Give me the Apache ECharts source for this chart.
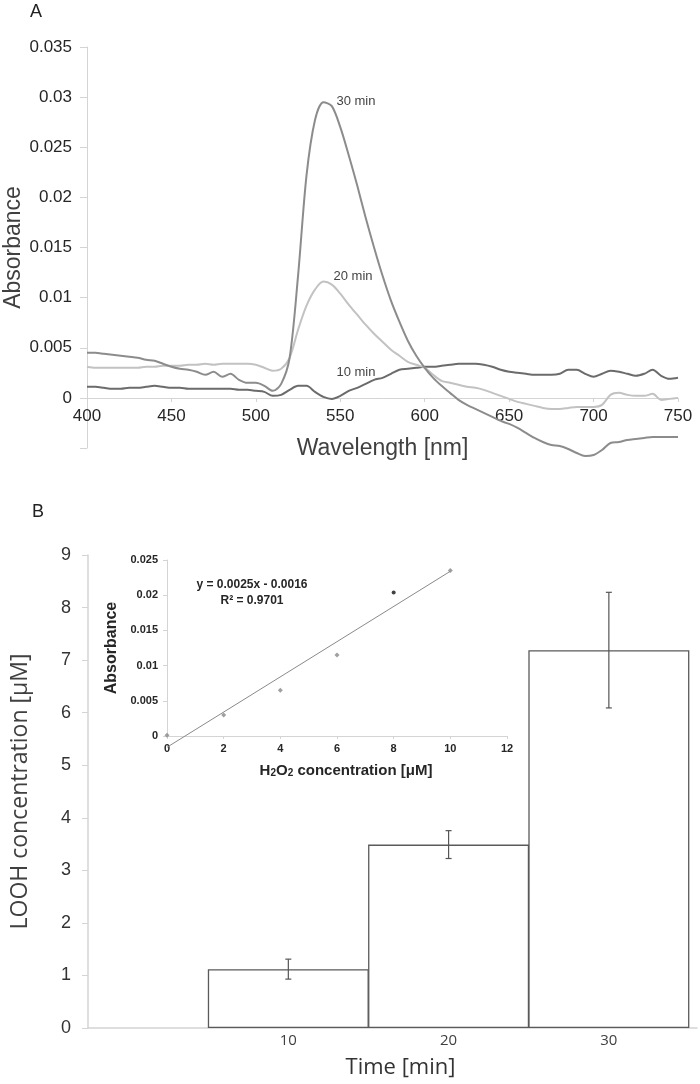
<!DOCTYPE html>
<html><head><meta charset="utf-8">
<script src="https://cdn.jsdelivr.net/npm/echarts@6/dist/echarts.min.js"></script>
<style>html,body{margin:0;padding:0;background:#fff}#c{width:700px;height:1084px}</style>
</head><body><div id="c"></div>
<script>
// ---------- Panel A data ----------
const wavelengths = [400,405,410,415,420,425,430,435,440,445,450,455,460,465,470,475,480,485,490,495,
  500,505,510,515,520,525,530,535,540,545,550,555,560,565,570,575,580,585,590,595,
  600,605,610,615,620,625,630,635,640,645,650,655,660,665,670,675,680,685,690,695,
  700,705,710,715,720,725,730,735,740,745,750];
const abs10min = [.0011,.0011,.0010,.0009,.0009,.0010,.0010,.0011,.0012,.0011,.0010,.0010,.0009,.0009,.0009,.0009,.0009,.0009,.0008,.0008,
  .0007,.0006,.0002,.0003,.0008,.0012,.0012,.0006,.0001,-.0001,.0002,.0007,.0010,.0014,.0018,.0020,.0024,.0028,.0029,.0030,
  .0031,.0031,.0032,.0033,.0034,.0034,.0034,.0033,.0031,.0028,.0026,.0025,.0024,.0023,.0023,.0023,.0024,.0028,.0028,.0024,
  .0021,.0024,.0027,.0026,.0024,.0022,.0024,.0028,.0022,.0019,.0020];
const abs20min = [.0031,.0030,.0030,.0030,.0030,.0030,.0030,.0031,.0031,.0032,.0032,.0032,.0033,.0033,.0034,.0033,.0034,.0034,.0034,.0034,
  .0033,.0030,.0027,.0029,.0040,.0068,.0092,.0108,.0116,.0113,.0104,.0093,.0083,.0073,.0064,.0056,.0048,.0042,.0036,.0033,
  .0030,.0023,.0017,.0015,.0013,.0011,.0010,.0008,.0005,.0002,-.0001,-.0004,-.0006,-.0008,-.0010,-.0011,-.0011,-.0010,-.0009,-.0009,
  -.0009,-.0007,.0003,.0005,.0003,.0002,.0002,.0004,-.0002,-.0001,.0000];
const abs30min = [.0045,.0045,.0044,.0043,.0042,.0041,.0040,.0038,.0037,.0034,.0031,.0029,.0028,.0026,.0023,.0026,.0021,.0024,.0018,.0015,
  .0015,.0012,.0007,.0014,.0040,.0122,.0222,.0277,.0295,.0291,.0270,.0242,.0212,.0180,.0150,.0122,.0097,.0076,.0057,.0042,
  .0030,.0020,.0012,.0005,-.0002,-.0007,-.0011,-.0015,-.0019,-.0023,-.0026,-.0030,-.0035,-.0040,-.0044,-.0047,-.0048,-.0051,-.0055,-.0058,
  -.0057,-.0052,-.0045,-.0044,-.0042,-.0041,-.0040,-.0039,-.0039,-.0039,-.0039];
const curveNames = ['10 min', '20 min', '30 min'];

// ---------- Panel B data ----------
const timeLabels = ['10', '20', '30'];
const timePositions = [1, 2, 3];
const loohConc = [1.12, 3.49, 7.19];
const loohErr = [0.19, 0.265, 1.10];

// ---------- Inset (calibration) data ----------
const h2o2Conc = [0, 2, 4, 6, 8, 10];
const calAbsorbance = [0.0001, 0.0030, 0.0065, 0.0115, 0.0204, 0.0235];
const trendX = [0, 10];
const trendY = [-0.0016, 0.0234];
const equationText = 'y = 0.0025x - 0.0016';
const r2Text = 'R² = 0.9701';

const zip = (xs, ys) => xs.map((x, i) => [x, ys[i]]);
const fmt3 = v => String(+(+v).toFixed(3));
const SANS = '"Liberation Sans", Arial, sans-serif';
const OPEN = '"Open Sans", sans-serif';
const axisGray = '#d4d4d4';

const chart = echarts.init(document.getElementById('c'), null, {renderer: 'canvas'});

function labelPoint(name, x, y) {
  return {
    coord: [x, y], symbol: 'circle', symbolSize: 0,
    label: {show: true, formatter: name, position: 'right', distance: 0,
      fontSize: 13, color: '#444', fontFamily: SANS}
  };
}

const option = {
  animation: false,
  backgroundColor: '#ffffff',
  grid: [
    {left: 87, top: 47, width: 591, height: 401, outerBoundsMode: 'none', containLabel: false},
    {left: 88, top: 555, width: 609, height: 473, outerBoundsMode: 'none', containLabel: false},
    {left: 167, top: 560, width: 340, height: 176, outerBoundsMode: 'none', containLabel: false}
  ],
  xAxis: [
    {
      type: 'value', gridIndex: 0, min: 400, max: 750, interval: 50, offset: -50,
      axisLine: {show: true, onZero: false, lineStyle: {color: axisGray, width: 1}},
      axisTick: {show: true, length: 4, lineStyle: {color: axisGray}},
      axisLabel: {fontSize: 17, color: '#262626', margin: 10, fontFamily: SANS},
      splitLine: {show: false},
      name: 'Wavelength [nm]', nameLocation: 'middle', nameGap: 39, nameMoveOverlap: false,
      nameTextStyle: {fontSize: 23, color: '#404040', fontFamily: SANS}
    },
    {
      type: 'value', gridIndex: 1, min: -0.25, max: 3.55,
      axisLine: {show: true, onZero: false, lineStyle: {color: axisGray, width: 1.5}},
      axisTick: {show: false},
      axisLabel: {customValues: timePositions, formatter: v => timeLabels[Math.round(v) - 1] || '',
        fontSize: 15, color: '#404040', margin: 5, fontFamily: OPEN},
      splitLine: {show: false},
      name: 'Time [min]', nameLocation: 'middle', nameGap: 29, nameMoveOverlap: false,
      nameTextStyle: {fontSize: 22, color: '#333', fontFamily: OPEN, padding: [0, 0, 0, 16]}
    },
    {
      type: 'value', gridIndex: 2, min: 0, max: 12, interval: 2,
      axisLine: {show: true, onZero: false, lineStyle: {color: axisGray, width: 1}},
      axisTick: {show: true, length: 3, lineStyle: {color: axisGray}},
      axisLabel: {fontSize: 11, fontWeight: 'bold', color: '#262626', margin: 7, fontFamily: SANS},
      splitLine: {show: false},
      name: '{n|H}{s|2}{n|O}{s|2}{n| concentration [μM]}', nameLocation: 'middle', nameGap: 22, nameMoveOverlap: false,
      nameTextStyle: {padding: [0, 0, 0, 18], rich: {
        n: {fontSize: 15, fontWeight: 'bold', color: '#262626', fontFamily: SANS, lineHeight: 20, verticalAlign: 'bottom'},
        s: {fontSize: 10, fontWeight: 'bold', color: '#262626', fontFamily: SANS, lineHeight: 10, verticalAlign: 'bottom'}
      }}
    }
  ],
  yAxis: [
    {
      type: 'value', gridIndex: 0, min: -0.005, max: 0.035, interval: 0.005,
      axisLine: {show: true, onZero: false, lineStyle: {color: axisGray, width: 1}},
      axisTick: {show: true, length: 7, lineStyle: {color: axisGray}},
      axisLabel: {formatter: v => (v < -1e-9 ? '' : fmt3(v)), fontSize: 17, color: '#262626', margin: 15, fontFamily: SANS},
      splitLine: {show: false},
      name: 'Absorbance', nameLocation: 'middle', nameGap: 62, nameMoveOverlap: false,
      nameTextStyle: {fontSize: 23, color: '#404040', fontFamily: SANS}
    },
    {
      type: 'value', gridIndex: 1, min: 0, max: 9, interval: 1,
      axisLine: {show: true, onZero: false, lineStyle: {color: axisGray, width: 1.5}},
      axisTick: {show: true, length: 6, lineStyle: {color: axisGray}},
      axisLabel: {fontSize: 18, color: '#333', margin: 17, fontFamily: SANS},
      splitLine: {show: false},
      name: 'LOOH concentration [μM]', nameLocation: 'middle', nameGap: 56, nameMoveOverlap: false,
      nameTextStyle: {fontSize: 23, color: '#404040', fontFamily: OPEN}
    },
    {
      type: 'value', gridIndex: 2, min: 0, max: 0.025, interval: 0.005,
      axisLine: {show: true, onZero: false, lineStyle: {color: axisGray, width: 1}},
      axisTick: {show: true, length: 4, lineStyle: {color: axisGray}},
      axisLabel: {formatter: v => fmt3(v), fontSize: 11, fontWeight: 'bold', color: '#262626', margin: 9, fontFamily: SANS},
      splitLine: {show: false},
      name: 'Absorbance', nameLocation: 'middle', nameGap: 47, nameMoveOverlap: false,
      nameTextStyle: {fontSize: 16, fontWeight: 'bold', color: '#262626', fontFamily: SANS}
    }
  ],
  graphic: [
    {type: 'text', left: 30, top: 3, style: {text: 'A', fontSize: 18, fill: '#222', fontFamily: SANS}},
    {type: 'text', left: 32, top: 503, style: {text: 'B', fontSize: 18, fill: '#222', fontFamily: SANS}},
    {type: 'text', x: 252, y: 577, style: {text: equationText + '\n' + r2Text, align: 'center',
      fontSize: 12, fontWeight: 'bold', lineHeight: 15.5, fill: '#262626', fontFamily: SANS}}
  ],
  series: [
    {
      name: curveNames[0], type: 'line', xAxisIndex: 0, yAxisIndex: 0, clip: false,
      data: zip(wavelengths, abs10min), smooth: 0.3, showSymbol: false, symbol: 'none',
      lineStyle: {color: '#6b6b6b', width: 2}, itemStyle: {color: '#6b6b6b'},
      markPoint: {data: [labelPoint(curveNames[0], 547.7, 0.0025)]}
    },
    {
      name: curveNames[1], type: 'line', xAxisIndex: 0, yAxisIndex: 0, clip: false,
      data: zip(wavelengths, abs20min), smooth: 0.3, showSymbol: false, symbol: 'none',
      lineStyle: {color: '#c2c2c2', width: 2}, itemStyle: {color: '#c2c2c2'},
      markPoint: {data: [labelPoint(curveNames[1], 546, 0.01215)]}
    },
    {
      name: curveNames[2], type: 'line', xAxisIndex: 0, yAxisIndex: 0, clip: false,
      data: zip(wavelengths, abs30min), smooth: 0.3, showSymbol: false, symbol: 'none',
      lineStyle: {color: '#8c8c8c', width: 2}, itemStyle: {color: '#8c8c8c'},
      markPoint: {data: [labelPoint(curveNames[2], 547.7, 0.0296)]}
    },
    {
      name: 'LOOH', type: 'bar', xAxisIndex: 1, yAxisIndex: 1,
      data: zip(timePositions, loohConc), barWidth: 161,
      itemStyle: {color: '#ffffff', borderColor: '#5a5a5a', borderWidth: 1.3}
    },
    {
      name: 'LOOH error', type: 'custom', xAxisIndex: 1, yAxisIndex: 1,
      data: timePositions.map((x, i) => [x, loohConc[i] - loohErr[i], loohConc[i] + loohErr[i]]),
      renderItem: function (params, api) {
        const lo = api.coord([api.value(0), api.value(1)]);
        const hi = api.coord([api.value(0), api.value(2)]);
        const cap = 3;
        const st = {stroke: '#555', lineWidth: 1.2};
        return {type: 'group', children: [
          {type: 'line', shape: {x1: lo[0], y1: lo[1], x2: hi[0], y2: hi[1]}, style: st},
          {type: 'line', shape: {x1: lo[0] - cap, y1: lo[1], x2: lo[0] + cap, y2: lo[1]}, style: st},
          {type: 'line', shape: {x1: hi[0] - cap, y1: hi[1], x2: hi[0] + cap, y2: hi[1]}, style: st}
        ]};
      },
      z: 5
    },
    {
      name: 'Trend', type: 'line', xAxisIndex: 2, yAxisIndex: 2,
      data: zip(trendX, trendY), clip: false, showSymbol: false, symbol: 'none',
      lineStyle: {color: '#8a8a8a', width: 1}
    },
    {
      name: 'Calibration', type: 'scatter', xAxisIndex: 2, yAxisIndex: 2,
      data: zip(h2o2Conc, calAbsorbance).map((p, i) => (i === 4
        ? {value: p, symbol: 'circle', symbolSize: 4, itemStyle: {color: '#111'}}
        : {value: p})),
      symbol: 'diamond', symbolSize: 5, itemStyle: {color: '#888'}, z: 6
    }
  ]
};
chart.setOption(option);
</script>
</body></html>
